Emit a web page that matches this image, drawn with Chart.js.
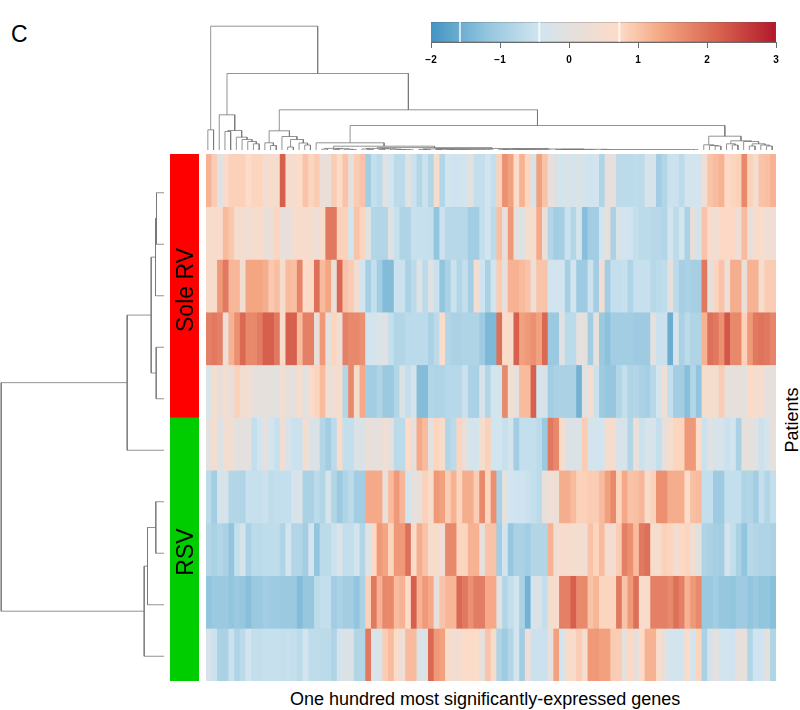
<!DOCTYPE html>
<html>
<head>
<meta charset="utf-8">
<script src="https://cdn.jsdelivr.net/npm/chart.js@4"></script>
<style>
    html, body { margin: 0; padding: 0; background: #fff; }
    #page { position: relative; width: 800px; height: 710px; overflow: hidden; font-family: "Liberation Sans", Arial, sans-serif; color: #000; }
    canvas { position: absolute; }
    .label { position: absolute; white-space: nowrap; line-height: 1; }
    .turned { transform: translate(-50%, -50%) rotate(-90deg); }
</style>
</head>
<body>
<div id="page">
    <canvas id="rowTree" width="164" height="515" style="left:0;top:166.5px"></canvas>
    <canvas id="groups" width="29" height="527" style="left:170.3px;top:154px"></canvas>
    <canvas id="colTree" width="570" height="130" style="left:205.3px;top:19.5px"></canvas>
    <canvas id="heat" width="570" height="527" style="left:205.5px;top:154px"></canvas>
    <canvas id="key" width="385" height="50" style="left:411px;top:22px"></canvas>
    <div class="label" style="left:11px;top:23px;font-size:23px">C</div>
    <div class="label turned" style="left:185px;top:290px;font-size:23px">Sole RV</div>
    <div class="label turned" style="left:185px;top:552px;font-size:23px">RSV</div>
    <div class="label turned" style="left:792px;top:420px;font-size:18px">Patients</div>
    <div class="label" style="left:290px;top:690px;font-size:18px">One hundred most significantly-expressed genes</div>
</div>
<script>
// one row per patient, 100 genes each
const row0 = [1.2,0.9,-0.1,0.6,0.85,0.85,0.85,0.7,0.8,0.8,
    0.4,0.6,0.5,2.2,0.5,0.55,0.7,1.0,0.8,0.9,
    0.2,0.2,0.9,0.7,1.0,0.1,0.9,1.0,-1.0,-0.6,
    -0.7,-0.1,-0.4,-0.7,-0.7,-0.1,-0.5,-0.8,-0.5,-0.8,
    0.5,-0.8,-0.4,-0.45,-0.45,-0.4,-0.05,-0.6,-0.6,-0.4,
    -0.6,0.85,1.6,1.4,0.7,1.2,0.8,-0.3,1.4,1.0,
    0.2,-0.2,-0.4,-0.2,-0.35,-0.2,-0.35,-0.45,-0.4,-0.85,
    0.1,0.1,-0.7,-0.7,-0.7,-0.65,-0.7,-0.3,-0.3,-1.0,
    -0.8,-0.5,-0.5,-0.7,-0.4,-0.35,-0.4,0.4,1.0,1.1,
    1.2,0.75,0.8,0.85,1.7,0.85,0.45,1.0,1.05,1.2];
const row1 = [0.6,0.6,0.6,1.1,0.95,0.5,0.5,0.3,0.5,0.6,
    0.2,0.2,0.8,0.1,0.1,0.5,0.55,0.55,0.5,0.3,
    0.6,1.9,1.9,0.85,0.85,-0.4,1.0,0.8,-0.1,-0.8,
    -0.8,-0.8,-0.1,-0.55,-0.85,-0.85,-0.55,-0.55,-0.55,-0.6,
    -1.2,-0.5,-0.75,-0.75,-0.75,-0.75,-1.0,-1.0,-0.6,-0.4,
    -0.7,1.05,0.1,1.5,0.0,-0.15,0.5,0.5,1.3,0.2,
    -0.8,-1.0,-0.95,-0.5,-0.8,-0.3,-1.3,-1.0,-1.0,-0.4,
    0.2,-0.9,-0.2,-0.4,-0.45,-0.6,-0.7,-0.7,-0.75,-0.75,
    -0.8,-0.4,-0.7,-0.4,-0.9,0.15,-0.3,1.0,0.6,0.3,
    0.75,0.75,0.75,0.3,1.1,0.2,0.5,0.65,0.35,0.35];
const row2 = [0.6,0.6,1.5,1.9,1.15,1.15,0.4,1.35,1.35,1.35,
    1.25,0.95,1.05,0.5,1.1,1.05,1.75,0.7,0.75,2.0,
    1.1,1.35,0.2,2.1,1.0,0.9,0.45,-0.4,-0.95,-0.6,
    -1.0,-1.35,-1.35,-0.5,-0.5,-0.9,-0.7,-0.15,-0.7,-0.1,
    -0.5,-1.2,-0.9,-0.5,-0.8,-0.6,-0.95,0.4,-0.45,-0.9,
    -0.35,0.9,0.1,1.2,1.2,1.1,1.0,0.3,1.0,1.0,
    -0.4,-0.4,-0.4,-0.95,-0.4,-1.05,-1.05,-0.5,-1.0,0.4,
    -1.0,-0.6,-0.6,-0.55,-0.85,-0.55,-0.55,-0.55,-0.75,-0.7,
    -0.65,0.0,-0.7,-0.95,-0.9,-0.95,-0.95,1.9,0.1,0.8,
    1.0,0.3,1.25,1.25,0.2,1.2,1.2,0.5,0.9,0.9];
const row3 = [1.8,1.9,1.8,0.3,1.2,1.6,2.1,1.7,1.7,1.85,
    2.2,2.2,1.9,0.6,2.2,2.2,1.1,1.8,1.8,0.2,
    1.5,0.0,0.8,0.3,1.8,1.7,1.7,1.6,-0.4,-0.3,
    -0.25,-0.1,-0.6,-0.8,-0.8,-0.7,-0.7,-0.7,-0.7,-0.9,
    -0.7,0.65,-0.8,-0.9,-0.9,-0.85,-0.85,-0.85,-1.05,-1.4,
    -1.4,2.0,0.7,0.6,2.2,1.4,1.5,1.6,1.4,2.1,
    -1.1,-1.1,-0.1,-0.7,-0.7,0.0,0.05,-1.0,0.05,-1.1,
    -1.25,-1.0,-1.0,-1.0,-1.0,-1.05,-1.05,-1.05,0.0,-0.5,
    -0.5,-1.6,-0.3,-0.9,-0.7,-0.85,-0.85,1.2,2.0,1.9,
    1.6,2.3,1.7,1.7,0.85,1.5,1.9,1.95,1.9,1.75];
const row4 = [-0.25,0.45,0.15,0.45,0.1,0.85,0.4,0.4,0.05,0.1,
    0.05,0.05,-0.05,0.4,0.05,0.05,0.6,-0.1,0.6,0.8,
    1.1,0.35,0.3,0.6,-0.8,1.7,0.5,1.3,-1.0,-1.0,
    -0.85,-1.1,-1.1,-0.8,-0.2,-0.6,-0.3,-1.35,-1.35,-0.8,
    -0.85,-0.85,-0.75,-0.75,-0.75,-0.5,-0.9,-0.9,-0.3,-0.8,
    -0.4,-0.4,1.7,0.4,0.1,1.1,1.1,2.2,-0.4,-0.3,
    -1.0,-0.9,-0.9,-0.9,-0.9,-1.5,-0.1,0.4,-0.5,-1.05,
    -1.15,-1.15,-0.8,-0.6,-0.85,-0.8,-0.9,-0.95,-0.75,-0.4,
    0.3,-0.6,-1.0,-1.0,-1.3,-0.8,-1.2,0.5,0.5,0.45,
    0.9,0.05,0.1,0.1,0.0,0.7,0.5,0.5,0.05,0.05];
const row5 = [0.0,0.5,-0.2,0.45,0.45,-0.05,0.0,0.0,-0.6,-0.4,
    0.1,-0.4,-0.55,0.4,-0.3,-0.5,-0.5,0.5,-0.2,-0.2,
    -0.8,-1.0,-0.7,0.6,-0.6,-0.6,-0.2,-0.2,0.2,0.1,
    0.05,0.4,0.0,-0.7,-0.7,0.7,0.1,1.3,1.1,0.0,
    0.8,0.6,-0.8,-0.7,0.8,0.2,-0.35,-0.35,0.5,0.85,
    -0.4,-0.4,-0.55,-0.35,-1.0,-0.6,-0.6,-0.6,-0.7,-1.1,
    1.9,1.7,0.6,-0.2,-0.2,-0.2,0.9,-0.3,-0.4,-0.4,
    0.5,0.6,-0.3,-0.3,-0.8,0.2,-0.5,-0.3,-0.3,-0.6,
    0.1,0.5,0.8,0.8,1.5,1.5,0.7,-0.5,-0.1,-0.3,
    -0.3,-0.5,-0.4,-0.9,0.05,0.05,-0.1,-0.5,-0.35,0.1];
const row6 = [-0.7,-1.0,-0.3,-0.3,-0.8,-0.8,-0.85,-0.55,-0.55,-0.55,
    -0.5,-0.65,-0.6,-0.6,-0.6,-0.3,-0.25,-0.9,-0.9,-0.7,
    -0.8,-0.3,-0.8,-1.1,-0.85,-0.7,-1.0,-1.0,1.3,1.3,
    1.3,0.2,1.1,1.5,1.15,-0.4,0.1,0.15,0.85,0.6,
    1.5,1.4,0.9,1.2,0.8,1.25,1.25,0.9,1.7,0.8,
    1.6,-0.9,0.0,-0.4,-0.45,-0.45,-0.5,-0.6,-0.7,0.15,
    0.3,0.3,1.25,1.25,1.1,0.85,0.85,0.9,0.9,1.1,
    1.4,1.7,0.8,1.3,1.0,1.05,1.15,0.6,0.85,1.6,
    1.6,1.25,1.25,1.25,0.7,1.05,1.1,-0.6,-0.6,-1.05,
    -1.05,-0.6,-0.6,-0.6,-0.85,-0.8,-1.0,-0.6,-0.8,-0.6];
const row7 = [-0.8,-0.9,-0.8,-0.9,-1.2,-0.6,-0.3,-0.9,-0.7,-0.7,
    -0.65,-0.65,-0.65,-0.85,-0.4,-0.8,-0.8,-1.0,-0.4,-1.2,
    -0.7,-0.7,-0.5,-0.25,-0.6,-0.6,-0.4,-0.8,-0.15,0.75,
    1.5,1.35,0.8,1.5,1.5,2.0,0.7,1.25,1.0,0.6,
    0.6,0.3,1.7,1.7,0.8,0.8,1.2,1.2,0.1,1.0,
    1.0,-1.0,-0.35,-1.15,-0.9,-0.9,-1.0,-0.8,-0.8,-0.8,
    1.2,0.4,0.6,0.55,0.5,0.5,0.4,1.0,0.8,1.1,
    0.45,0.45,0.9,1.8,1.6,1.1,1.9,2.0,0.5,0.5,
    0.85,0.8,0.4,0.75,0.8,0.4,0.0,-0.85,-0.9,-0.95,
    -1.0,-0.3,-0.6,-0.9,-1.2,-0.75,-0.8,-0.85,-0.85,-0.9];
const row8 = [-1.2,-1.1,-1.1,-1.1,-1.2,-1.1,-1.15,-1.3,-1.1,-1.1,
    -1.0,-1.05,-1.05,-1.1,-1.1,-1.1,-1.35,-1.15,-1.15,-0.7,
    -0.6,-0.6,-1.0,-0.9,-1.0,-1.0,-1.2,-0.9,0.85,1.9,
    1.2,1.7,1.7,1.1,1.2,0.7,2.2,1.2,1.5,1.3,
    0.1,1.0,1.15,1.15,2.1,1.9,1.6,1.85,1.85,1.3,
    1.3,-0.1,-0.8,-0.6,-0.4,-0.9,-1.5,-0.3,-0.2,-0.6,
    0.5,0.55,1.8,1.8,2.2,1.7,1.7,1.0,1.15,0.8,
    0.8,0.8,1.9,1.0,1.5,2.0,0.6,0.6,1.8,1.8,
    1.8,1.7,2.0,1.8,1.2,1.5,1.7,-1.1,-1.1,-1.0,
    -1.15,-1.15,-1.2,-1.05,-1.05,-1.2,-1.1,-1.2,-1.2,-1.3];
const row9 = [-0.3,-0.5,-0.9,-0.9,-0.5,-0.85,-0.7,-0.4,-0.6,-0.6,
    -0.55,-0.55,-0.55,-0.6,-0.55,-0.6,-0.7,-0.4,-0.65,-0.65,
    -0.7,-0.7,-0.85,-0.35,-0.2,-0.2,-0.8,-0.8,1.9,-0.25,
    -0.25,0.9,1.1,0.65,0.3,1.1,1.1,-0.2,-0.2,2.1,
    1.5,1.4,0.6,0.4,0.4,0.7,0.7,0.65,0.1,1.0,
    0.5,-0.85,-1.05,-0.8,-0.4,-1.0,0.3,-0.5,-0.5,-0.5,
    0.1,1.4,-0.4,0.6,0.6,0.9,0.5,1.5,1.5,1.4,
    1.4,0.9,0.9,0.05,0.75,0.1,0.7,1.2,1.2,0.65,
    0.05,-0.4,-0.35,-0.4,0.7,-0.4,0.8,-0.9,-0.3,0.1,
    -0.4,-0.4,-0.45,0.1,0.1,-0.8,-0.45,-0.45,0.0,-0.85];
const rows = [row0, row1, row2, row3, row4, row5, row6, row7, row8, row9];

// colour key
const keyValues = [-2, -1.2, -0.43, 0, 0.73, 1.35, 2.2, 3];
const keyColors = ['#4393c3', '#92c5de', '#d1e5f0', '#e3e0de', '#fddbc7', '#f4a582', '#d6604d', '#b2182b'];
const keyMarks = [-1.58, -0.43, 0.73];

// patient groups: how many rows each one covers
const groupNames = ['Sole RV', 'RSV'];
const groupSizes = [5, 5];
const groupColors = ['#ff0000', '#00cd00'];

// dendrograms as [height, left, right], a plain number is a leaf
const rowDendro = [162.8,
    [36.8, [12.8, [8.5, [7.5, 0, 1], 2], [7.8, 3, 4]], 5],
    [19.8, [16.5, [8.2, 6, 7], 8], 9]];

const flatLeft = [1.6, [0.9, 20, 21], [1.2, [0.6, 22, 23], [0.8, 24, [0.4, 25, 26]]]];
const flatA = [1.6, [1.0, 27, [0.7, 28, 29]], [1.2, [0.6, 30, 31], [0.9, 32, [0.5, 33, [0.3, 34, [0.2, 35, 36]]]]]];
const flatC = [1.1, [0.6, 37, [0.4, 38, 39]], [0.8, [0.5, 40, 41], [0.6, [0.3, 42, 43], [0.4, 44, [0.2, 45, [0.2, 46, [0.2, 47, [0.15, 48, [0.15, 49, 50]]]]]]]]];
const flatE = [0.6, [0.3, 51, [0.2, 52, 53]], [0.4, 54, [0.3, 55, [0.2, 56, [0.2, 57, [0.2, 58, [0.15, 59, 60]]]]]]];
const flatG = [0.5, 61, [0.4, 62, [0.35, 63, [0.3, 64, [0.25, 65, [0.2, 66, [0.2, 67, 68]]]]]]];
const flatH = [0.4, 69, [0.2, 70, [0.2, 71, [0.2, 72, [0.2, 73, [0.2, 74, [0.2, 75, [0.2, 76, [0.2, 77, [0.2, 78, [0.2, 79, [0.2, 80, [0.2, 81, [0.2, 82, [0.2, 83, [0.2, 84, [0.2, 85, 86]]]]]]]]]]]]]]]]];
const flatRight = [2.4, flatA, [1.5, flatC, [1.0, flatE, [0.7, flatG, flatH]]]];
const colDendro = [123.8,
    [20.2, 0, 1],
    [76.5,
        [35.2, 2, [19.5, [18.5, 3, 4], [12.8, 5, [10.5, 6, [8.5, 7, [6.2, 8, 9]]]]]],
        [40.2,
            [19.2, [7.2, 10, [4.5, 11, 12]], [13.5, 13, [10.5, [3, 14, 15], [7, 16, [5, 17, 18]]]]],
            [24.5,
                [7.2, 19, [3.8, flatLeft, flatRight]],
                [13.8,
                    [5.2, 87, [4.5, 88, [4, 89, 90]]],
                    [9.2, [6.2, 91, [5, 92, 93]], [8.5, 94, [6.2, [4, 95, 96], [5, 97, [4, 98, 99]]]]]]]]]];

const treeColor = '#777';

function hexToRgb(hex) {
    return [1, 3, 5].map(i => parseInt(hex.slice(i, i + 2), 16));
}

function valueColor(v) {
    let i = 0;
    while (i < keyValues.length - 2 && v > keyValues[i + 1]) i++;
    const t = Math.min(1, Math.max(0, (v - keyValues[i]) / (keyValues[i + 1] - keyValues[i])));
    const a = hexToRgb(keyColors[i]);
    const b = hexToRgb(keyColors[i + 1]);
    const c = a.map((ch, k) => Math.round(ch + (b[k] - ch) * t));
    return `rgb(${c[0]},${c[1]},${c[2]})`;
}

// walks a dendrogram and collects its U shapes, with gaps between them
function treePath(tree, toPoint) {
    const points = [];
    function walk(node) {
        if (typeof node === 'number') return { pos: node + 0.5, h: 0 };
        const a = walk(node[1]);
        const b = walk(node[2]);
        points.push(toPoint(a.pos, a.h), toPoint(a.pos, node[0]), toPoint(b.pos, node[0]), toPoint(b.pos, b.h));
        points.push({ x: null, y: null });
        return { pos: (a.pos + b.pos) / 2, h: node[0] };
    }
    walk(tree);
    return points;
}

function treeChart(id, points, scales) {
    new Chart(document.getElementById(id), {
        type: 'scatter',
        data: {
            datasets: [{
                data: points,
                showLine: true,
                spanGaps: false,
                borderColor: treeColor,
                borderWidth: 0.8,
                pointRadius: 0,
                clip: false
            }]
        },
        options: {
            responsive: false,
            animation: false,
            layout: { padding: 0 },
            plugins: { legend: { display: false }, tooltip: { enabled: false } },
            scales: scales
        }
    });
}

treeChart('colTree', treePath(colDendro, (pos, h) => ({ x: pos, y: h })), {
    x: { type: 'linear', min: 0, max: 100, display: false },
    y: { type: 'linear', min: 0, max: 130, display: false }
});

treeChart('rowTree', treePath(rowDendro, (pos, h) => ({ x: h, y: pos })), {
    x: { type: 'linear', min: 0, max: 164, reverse: true, display: false },
    y: { type: 'linear', min: 0, max: 10, reverse: true, display: false }
});

// heatmap: one dataset of floating bars per patient row
new Chart(document.getElementById('heat'), {
    type: 'bar',
    data: {
        labels: row0.map((_, i) => `gene ${i + 1}`),
        datasets: rows.map((values, r) => ({
            label: `patient ${r + 1}`,
            data: values.map(() => [r, r + 1]),
            backgroundColor: values.map(valueColor),
            borderWidth: 0,
            barPercentage: 1,
            categoryPercentage: 1,
            grouped: false
        }))
    },
    options: {
        responsive: false,
        animation: false,
        layout: { padding: 0 },
        plugins: { legend: { display: false }, tooltip: { enabled: false } },
        scales: {
            x: { display: false },
            y: { type: 'linear', min: 0, max: rows.length, reverse: true, display: false }
        }
    }
});

// group side bar
new Chart(document.getElementById('groups'), {
    type: 'bar',
    data: {
        labels: ['group'],
        datasets: groupNames.map((name, i) => ({
            label: name,
            data: [groupSizes[i]],
            backgroundColor: groupColors[i],
            borderWidth: 0,
            barPercentage: 1,
            categoryPercentage: 1
        }))
    },
    options: {
        responsive: false,
        animation: false,
        layout: { padding: 0 },
        plugins: { legend: { display: false }, tooltip: { enabled: false } },
        scales: {
            x: { stacked: true, display: false },
            y: { stacked: true, min: 0, max: 10, reverse: true, display: false }
        }
    }
});

// colour key
function keyGradient(context) {
    const area = context.chart.chartArea;
    if (!area) return keyColors[0];
    const gradient = context.chart.ctx.createLinearGradient(area.left, 0, area.right, 0);
    keyValues.forEach((v, i) => gradient.addColorStop((v - keyValues[0]) / (keyValues[keyValues.length - 1] - keyValues[0]), keyColors[i]));
    return gradient;
}

new Chart(document.getElementById('key'), {
    type: 'bar',
    data: {
        labels: ['key'],
        datasets: [
            ...keyMarks.map(m => ({
                data: [[m - 0.008, m + 0.008]],
                backgroundColor: 'rgba(255,255,255,0.8)',
                borderWidth: 0,
                barPercentage: 1,
                categoryPercentage: 1,
                grouped: false,
                order: 0
            })),
            {
                data: [[keyValues[0], keyValues[keyValues.length - 1]]],
                backgroundColor: keyGradient,
                borderColor: '#555',
                borderWidth: 0.6,
                barPercentage: 1,
                categoryPercentage: 1,
                grouped: false,
                order: 1
            }
        ]
    },
    options: {
        indexAxis: 'y',
        responsive: false,
        animation: false,
        layout: { padding: { left: 20, right: 20, top: 0, bottom: 0 } },
        plugins: { legend: { display: false }, tooltip: { enabled: false } },
        scales: {
            y: { display: false },
            x: {
                type: 'linear',
                min: -2,
                max: 3,
                afterFit: scale => { scale.height = 30; },
                border: { color: '#444', width: 0.8 },
                grid: { drawOnChartArea: false, tickLength: 6, color: '#444', lineWidth: 0.8 },
                ticks: {
                    stepSize: 1,
                    padding: 6,
                    maxRotation: 0,
                    color: '#000',
                    font: { family: '"Liberation Sans"', size: 10, weight: 'bold' },
                    callback: v => String(v).replace('-', '\u2212')
                }
            }
        }
    }
});
</script>
</body>
</html>
